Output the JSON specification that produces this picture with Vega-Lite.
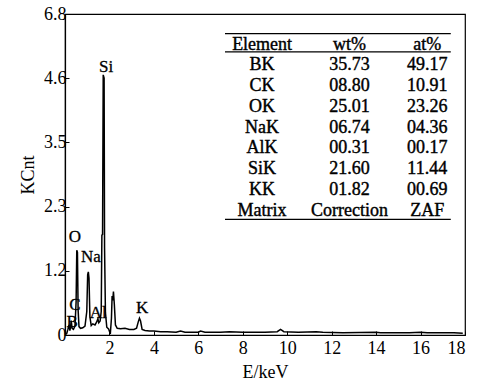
{
  "$schema": "https://vega.github.io/schema/vega-lite/v6.json",
  "width": 400,
  "height": 321,
  "autosize": {"type": "none"},
  "padding": {"left": 65, "top": 14, "right": 12, "bottom": 46},
  "background": "white",
  "config": {
    "view": {"stroke": "black", "strokeWidth": 1.2},
    "font": "Liberation Serif",
    "axis": {
      "grid": false,
      "domainColor": "black",
      "domainWidth": 1.2,
      "tickColor": "black",
      "tickSize": -4,
      "labelColor": "black",
      "labelFont": "Liberation Serif",
      "labelFontWeight": "normal",
      "labelFontSize": 18,
      "titleColor": "black",
      "titleFont": "Liberation Serif",
      "titleFontSize": 18,
      "titleFontWeight": "normal"
    }
  },
  "datasets": {
    "spectrum": [
      {"E": 0.0, "KCnt": 0.0}, {"E": 0.08, "KCnt": 0.03}, {"E": 0.13, "KCnt": 0.1},
      {"E": 0.18, "KCnt": 0.18}, {"E": 0.22, "KCnt": 0.08}, {"E": 0.25, "KCnt": 0.14},
      {"E": 0.28, "KCnt": 0.26}, {"E": 0.32, "KCnt": 0.12}, {"E": 0.38, "KCnt": 0.1},
      {"E": 0.45, "KCnt": 0.16}, {"E": 0.5, "KCnt": 0.6}, {"E": 0.53, "KCnt": 1.52},
      {"E": 0.56, "KCnt": 1.48}, {"E": 0.59, "KCnt": 0.45}, {"E": 0.63, "KCnt": 0.15},
      {"E": 0.7, "KCnt": 0.12}, {"E": 0.8, "KCnt": 0.13}, {"E": 0.9, "KCnt": 0.16},
      {"E": 0.98, "KCnt": 0.42}, {"E": 1.02, "KCnt": 1.08}, {"E": 1.05, "KCnt": 1.13},
      {"E": 1.08, "KCnt": 1.02}, {"E": 1.12, "KCnt": 0.33}, {"E": 1.18, "KCnt": 0.17},
      {"E": 1.25, "KCnt": 0.2}, {"E": 1.35, "KCnt": 0.18}, {"E": 1.42, "KCnt": 0.23},
      {"E": 1.48, "KCnt": 0.29}, {"E": 1.52, "KCnt": 0.22}, {"E": 1.58, "KCnt": 0.25},
      {"E": 1.63, "KCnt": 0.42}, {"E": 1.66, "KCnt": 1.79}, {"E": 1.69, "KCnt": 1.8},
      {"E": 1.72, "KCnt": 4.66}, {"E": 1.76, "KCnt": 4.6}, {"E": 1.78, "KCnt": 1.56},
      {"E": 1.82, "KCnt": 0.4}, {"E": 1.88, "KCnt": 0.14}, {"E": 1.96, "KCnt": 0.11},
      {"E": 2.04, "KCnt": 0.02}, {"E": 2.09, "KCnt": 0.3}, {"E": 2.12, "KCnt": 0.7},
      {"E": 2.15, "KCnt": 0.62}, {"E": 2.18, "KCnt": 0.78}, {"E": 2.22, "KCnt": 0.55},
      {"E": 2.27, "KCnt": 0.18}, {"E": 2.35, "KCnt": 0.12}, {"E": 2.5, "KCnt": 0.11},
      {"E": 2.7, "KCnt": 0.12}, {"E": 2.9, "KCnt": 0.1}, {"E": 3.1, "KCnt": 0.1},
      {"E": 3.22, "KCnt": 0.12}, {"E": 3.3, "KCnt": 0.24}, {"E": 3.35, "KCnt": 0.3},
      {"E": 3.4, "KCnt": 0.25}, {"E": 3.47, "KCnt": 0.1}, {"E": 3.6, "KCnt": 0.08},
      {"E": 3.8, "KCnt": 0.07}, {"E": 4.0, "KCnt": 0.07}, {"E": 4.3, "KCnt": 0.06},
      {"E": 4.6, "KCnt": 0.06}, {"E": 5.0, "KCnt": 0.05}, {"E": 5.2, "KCnt": 0.07},
      {"E": 5.4, "KCnt": 0.05}, {"E": 6.0, "KCnt": 0.05}, {"E": 6.1, "KCnt": 0.07},
      {"E": 6.3, "KCnt": 0.05}, {"E": 7.0, "KCnt": 0.05}, {"E": 7.4, "KCnt": 0.06},
      {"E": 8.0, "KCnt": 0.05}, {"E": 9.0, "KCnt": 0.05}, {"E": 9.55, "KCnt": 0.06},
      {"E": 9.7, "KCnt": 0.1}, {"E": 9.85, "KCnt": 0.06}, {"E": 10.5, "KCnt": 0.05},
      {"E": 11.3, "KCnt": 0.06}, {"E": 11.6, "KCnt": 0.05}, {"E": 12.5, "KCnt": 0.04},
      {"E": 14.0, "KCnt": 0.05}, {"E": 14.2, "KCnt": 0.04}, {"E": 15.5, "KCnt": 0.04},
      {"E": 16.0, "KCnt": 0.05}, {"E": 16.3, "KCnt": 0.04}, {"E": 17.5, "KCnt": 0.04},
      {"E": 17.9, "KCnt": 0.03}
    ],
    "peaks": [
      {"label": "Si", "E": 1.85, "KCnt": 4.8},
      {"label": "O", "E": 0.45, "KCnt": 1.76},
      {"label": "Na", "E": 1.17, "KCnt": 1.4},
      {"label": "C", "E": 0.45, "KCnt": 0.54},
      {"label": "B", "E": 0.32, "KCnt": 0.23},
      {"label": "Al", "E": 1.5, "KCnt": 0.39},
      {"label": "K", "E": 3.47, "KCnt": 0.48}
    ],
    "table": [
      {"Element": "Element", "wt": "wt%", "at": "at%"},
      {"Element": "BK", "wt": "35.73", "at": "49.17"},
      {"Element": "CK", "wt": "08.80", "at": "10.91"},
      {"Element": "OK", "wt": "25.01", "at": "23.26"},
      {"Element": "NaK", "wt": "06.74", "at": "04.36"},
      {"Element": "AlK", "wt": "00.31", "at": "00.17"},
      {"Element": "SiK", "wt": "21.60", "at": "11.44"},
      {"Element": "KK", "wt": "01.82", "at": "00.69"},
      {"Element": "Matrix", "wt": "Correction", "at": "ZAF"}
    ],
    "rules": [
      {"y": 5.4}, {"y": 5.07}, {"y": 2.07}
    ]
  },
  "layer": [
    {
      "layer": [
        {
          "data": {"name": "spectrum"},
          "mark": {"type": "line", "color": "black", "strokeWidth": 1.5, "clip": true},
          "encoding": {
            "x": {
              "field": "E", "type": "quantitative",
              "scale": {"domain": [0, 18], "nice": false},
              "axis": {"values": [2, 4, 6, 8, 10, 12, 14, 16, 18], "title": "E/keV", "labelPadding": 8, "titlePadding": 6}
            },
            "y": {
              "field": "KCnt", "type": "quantitative",
              "scale": {"domain": [0, 5.75], "nice": false},
              "axis": {
                "values": [0, 1.15, 2.3, 3.45, 4.6, 5.75],
                "labelExpr": "datum.value == 0 ? '0' : datum.value < 1.2 ? '1.2' : datum.value < 2.4 ? '2.3' : datum.value < 3.5 ? '3.5' : datum.value < 4.7 ? '4.6' : '6.8'",
                "title": "KCnt", "labelPadding": 3, "titlePadding": 6
              }
            }
          }
        },
        {
          "data": {"name": "peaks"},
          "mark": {"type": "text", "color": "black", "fontSize": 17, "font": "Liberation Serif", "baseline": "middle", "align": "center", "stroke": "black", "strokeWidth": 0.3},
          "encoding": {
            "x": {"field": "E", "type": "quantitative"},
            "y": {"field": "KCnt", "type": "quantitative"},
            "text": {"field": "label"}
          }
        },
        {
          "data": {"name": "rules"},
          "mark": {"type": "rule", "color": "black", "strokeWidth": 1.2},
          "encoding": {
            "x": {"datum": 7.2},
            "x2": {"datum": 17.36},
            "y": {"field": "y", "type": "quantitative"}
          }
        }
      ]
    },
    {
      "data": {"name": "table"},
      "encoding": {
        "y": {
          "field": "Element", "type": "ordinal", "sort": null,
          "scale": {"type": "point", "padding": 0, "range": [30.5, 196.7]},
          "axis": null
        }
      },
      "layer": [
        {
          "mark": {"type": "text", "color": "black", "fontSize": 18, "font": "Liberation Serif", "baseline": "middle", "align": "center", "stroke": "black", "strokeWidth": 0.4},
          "encoding": {"x": {"datum": 8.87}, "text": {"field": "Element"}}
        },
        {
          "mark": {"type": "text", "color": "black", "fontSize": 18, "font": "Liberation Serif", "baseline": "middle", "align": "center", "stroke": "black", "strokeWidth": 0.4},
          "encoding": {"x": {"datum": 12.8}, "text": {"field": "wt"}}
        },
        {
          "mark": {"type": "text", "color": "black", "fontSize": 18, "font": "Liberation Serif", "baseline": "middle", "align": "center", "stroke": "black", "strokeWidth": 0.4},
          "encoding": {"x": {"datum": 16.3}, "text": {"field": "at"}}
        }
      ]
    }
  ],
  "resolve": {"scale": {"y": "independent"}}
}
